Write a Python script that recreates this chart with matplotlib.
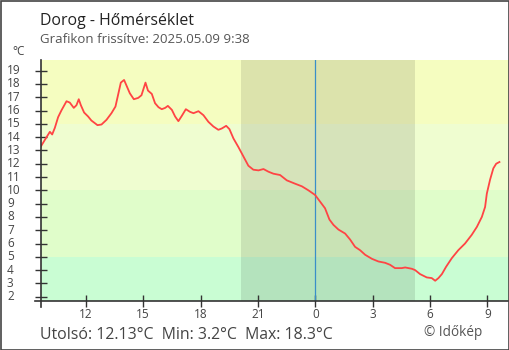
import matplotlib.pyplot as plt
from matplotlib.patches import Rectangle
import matplotlib.transforms as mtransforms

plt.rcParams['font.family'] = ['Open Sans', 'DejaVu Sans']

# hours since May 8 00:00 (24 = midnight), temperature in °C
hours = [9.65, 9.86, 10.12, 10.24, 10.38, 10.55, 10.72, 10.99, 11.16, 11.37,
         11.51, 11.63, 11.74, 11.91, 12.12, 12.29, 12.61, 12.82, 13.08, 13.34,
         13.55, 13.69, 13.83, 14.00, 14.12, 14.30, 14.51, 14.74, 14.91, 15.12,
         15.25, 15.45, 15.62, 15.80, 15.97, 16.15, 16.29, 16.50, 16.67, 16.84,
         17.02, 17.23, 17.45, 17.63, 17.89, 18.15, 18.41, 18.67, 18.93, 19.11,
         19.34, 19.51, 19.72, 19.98, 20.24, 20.50, 20.76, 21.03, 21.29, 21.55,
         21.81, 22.16, 22.51, 22.94, 23.30, 23.64, 23.99, 24.25, 24.51, 24.74,
         24.95, 25.21, 25.56, 25.82, 26.08, 26.34, 26.61, 26.96, 27.30, 27.65,
         27.91, 28.17, 28.52, 28.70, 29.05, 29.22, 29.48, 29.83, 30.09, 30.27,
         30.44, 30.62, 30.84, 31.14, 31.48, 31.83, 32.18, 32.45, 32.71, 32.88,
         32.97, 33.14, 33.31, 33.46, 33.63]
temps = [13.3, 13.8, 14.4, 14.2, 14.7, 15.5, 16.0, 16.7, 16.6, 16.2,
         16.4, 16.85, 16.4, 15.85, 15.55, 15.25, 14.9, 14.95, 15.3, 15.8,
         16.3, 17.2, 18.1, 18.3, 17.9, 17.3, 16.85, 16.95, 17.15, 18.1,
         17.5, 17.25, 16.55, 16.25, 16.1, 16.2, 16.35, 16.05, 15.55, 15.2,
         15.6, 16.1, 15.9, 15.8, 15.95, 15.65, 15.15, 14.8, 14.55, 14.65,
         14.85, 14.6, 13.9, 13.25, 12.55, 11.85, 11.55, 11.5, 11.6, 11.4,
         11.25, 11.15, 10.75, 10.5, 10.3, 10.0, 9.65, 9.15, 8.65, 7.8,
         7.4, 7.05, 6.75, 6.3, 5.75, 5.5, 5.15, 4.85, 4.65, 4.55,
         4.4, 4.15, 4.15, 4.2, 4.1, 4.0, 3.7, 3.45, 3.4, 3.2,
         3.4, 3.7, 4.25, 4.9, 5.5, 6.0, 6.65, 7.25, 8.0, 8.75,
         9.75, 10.8, 11.65, 12.0, 12.13]

sunset = 20.13
sunrise = 29.24
midnight = 24

band_edges = [-50, 5, 10, 15, 50]
band_colors = ['#c9fdd3', '#e0fdca', '#effdd0', '#f5fdc0']

x_ticks = [12, 15, 18, 21, 24, 27, 30, 33]
x_labels = ['12', '15', '18', '21', '0', '3', '6', '9']
y_ticks = list(range(2, 20))

fig = plt.figure(figsize=(5.1, 3.5), dpi=100)
ax = fig.add_axes([40.7 / 510, 49.3 / 350, 468.3 / 510, 240.7 / 350])

# temperature bands
for i in range(len(band_colors)):
    ax.axhspan(band_edges[i], band_edges[i + 1], color=band_colors[i], lw=0, zorder=0)

# night
ax.axvspan(sunset, sunrise, color='black', alpha=0.1, lw=0, zorder=1)
ax.axvline(midnight, color='#3a8fc8', lw=0.9, zorder=2)

ax.plot(hours, temps, color='#ff4444', lw=1.3, zorder=3)

ax.set_xlim(9.64, 34.13)
ax.set_ylim(1.7, 19.8)

for s in ax.spines.values():
    s.set_visible(False)

# axis lines that overshoot the corner a little
trans = ax.transAxes
ax.plot([0, 0], [-6 / 240.7, 1], transform=trans, color='#333333', lw=1.2, clip_on=False, zorder=4)
ax.plot([-6 / 468.3, 1], [0, 0], transform=trans, color='#333333', lw=1.2, clip_on=False, zorder=4)

ax.set_xticks(x_ticks)
ax.set_xticklabels(x_labels)
ax.set_yticks(y_ticks)
ax.set_yticklabels([])
ax.tick_params(axis='both', direction='inout', length=8.6, width=1.0, color='#333333')
ax.tick_params(axis='x', labelsize=8.5, labelcolor='#444444', pad=1)
ax.tick_params(axis='y', length=9)

# left aligned y labels
ylab_trans = mtransforms.blended_transform_factory(fig.transFigure, ax.transData)
for t in y_ticks:
    fig.text(7 / 510, t, str(t), transform=ylab_trans, ha='left', va='center',
             fontsize=8.5, color='#444444')

fig.text(12 / 510, 1 - 51.5 / 350, '°C', ha='left', va='center', fontsize=8.5, color='#444444')
fig.text(40.5 / 510, 1 - 25 / 350, 'Dorog - Hőmérséklet', ha='left', va='baseline',
         fontsize=11.4, color='#222222')
fig.text(40.5 / 510, 1 - 43 / 350, 'Grafikon frissítve: 2025.05.09 9:38', ha='left',
         va='baseline', fontsize=9.5, color='#555555')
fig.text(40.5 / 510, 1 - 339 / 350, 'Utolsó: 12.13°C  Min: 3.2°C  Max: 18.3°C', ha='left',
         va='baseline', fontsize=11.4, color='#444444')
fig.text(482 / 510, 1 - 336 / 350, '© Időkép', ha='right', va='baseline',
         fontsize=9.8, color='#555555')

# outer frame
fig.patches.append(Rectangle((0.5 / 510, 0.5 / 350), 509 / 510, 349 / 350,
                             transform=fig.transFigure, fill=False,
                             edgecolor='#444444', lw=1.2))

fig.savefig('out.png', dpi=100)
